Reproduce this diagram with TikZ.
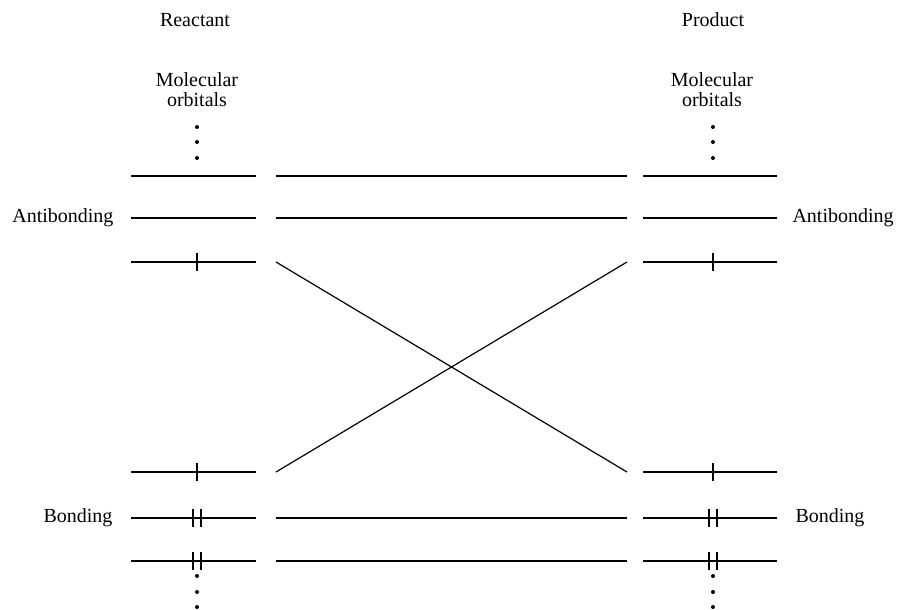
\documentclass[tikz,border=0pt]{standalone}
\usepackage{fontspec}
\setmainfont{Liberation Serif}
\usetikzlibrary{positioning}

\begin{document}
\begin{tikzpicture}[x=1pt, y=-1pt,
        every node/.style={font=\fontsize{20}{20}\selectfont},
        level/.style={line width=2.2pt},
        link/.style={line width=1.2pt},
        spin/.style={line width=1.8pt},
        dot/.style={circle, fill, inner sep=0pt, minimum size=4pt}
    ]
        \useasboundingbox (0,0) rectangle (898,610);

        \node (reac) at (195,20) {Reactant};
        \node (prod) at (713,20) {Product};
        \node[align=center] (molr) at (197,90) {Molecular\\orbitals};
        \node[align=center] (molp) at (712,90) {Molecular\\orbitals};

        \foreach \i/\y in {1/176, 2/218, 3/262, 4/472, 5/518, 6/561} {
            \coordinate (lw\i) at (131,\y);
            \coordinate (lm\i) at (197,\y);
            \coordinate (le\i) at (256,\y);
            \coordinate (la\i) at (276,\y);
            \coordinate (ra\i) at (627,\y);
            \coordinate (rw\i) at (643,\y);
            \coordinate (rm\i) at (713,\y);
            \coordinate (re\i) at (777,\y);
            \draw[level] (lw\i) -- (le\i);
            \draw[level] (rw\i) -- (re\i);
        }

        \foreach \j/\y in {1/127, 2/142, 3/158} {
            \node[dot] (rtop\j) at (197,\y) {};
            \node[dot] (ptop\j) at (713,\y) {};
        }
        \foreach \j/\y in {1/576, 2/592, 3/607} {
            \node[dot] (rbot\j) at (197,\y) {};
            \node[dot] (pbot\j) at (713,\y) {};
        }

        \node[left=14pt of lw2] (antir) {Antibonding};
        \node[right=12pt of re2] (antip) {Antibonding};
        \node[left=15pt of lw5] (bondr) {Bonding};
        \node[right=15pt of re5] (bondp) {Bonding};

        \draw[link] (la1) -- (ra1);
        \draw[link] (la2) -- (ra2);
        \draw[link] (la3) -- (ra4);
        \draw[link] (la4) -- (ra3);
        \draw[link] (la5) -- (ra5);
        \draw[link] (la6) -- (ra6);

        \foreach \m in {lm3, lm4, rm3, rm4} {
            \draw[spin] ([yshift=9pt]\m) -- ([yshift=-9pt]\m);
        }
        \foreach \m in {lm5, lm6, rm5, rm6} {
            \draw[spin] ([xshift=-4pt, yshift=9pt]\m) -- ([xshift=-4pt, yshift=-9pt]\m);
            \draw[spin] ([xshift=4pt, yshift=9pt]\m) -- ([xshift=4pt, yshift=-9pt]\m);
        }
    \end{tikzpicture}
\end{document}
